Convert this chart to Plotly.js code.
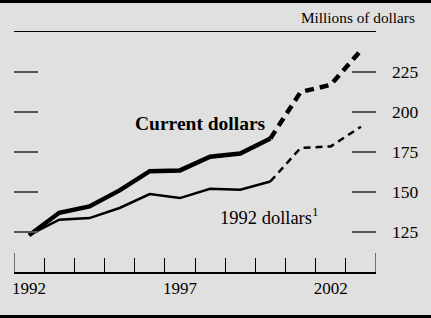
<!DOCTYPE html>
<html>
<head>
<meta charset="utf-8">
<script src="https://cdn.plot.ly/plotly-3.0.1.min.js"></script>
<style>
  html, body { margin: 0; padding: 0; background: #e0e0e0; overflow: hidden; }
  #wrap { position: relative; width: 431px; height: 318px; overflow: hidden; background: #e0e0e0; }
  #chart { position: absolute; left: 0; top: 0; width: 431px; height: 318px; }
  .rule { position: absolute; left: 0; width: 431px; background: #000; }
</style>
</head>
<body>
<div id="wrap">
  <div id="chart"></div>
  <div class="rule" style="top:0;height:3px;"></div>
  <div class="rule" style="top:315px;height:3px;"></div>
</div>
<script>
// ---- data ----
const years = [1992, 1993, 1994, 1995, 1996, 1997, 1998, 1999, 2000, 2001, 2002, 2003];
const currentDollars = [123, 137, 141, 151, 163, 163.5, 172, 174, 183.5, 212.5, 217, 238.5];
const constantDollars = [123, 132.7, 133.7, 140, 148.7, 146.2, 152, 151.4, 156.6, 177.5, 178.5, 190.8];
const lastActualIndex = 8; // 2000: solid through here, dashed after
const yTickVals = [125, 150, 175, 200, 225];
const xLabelVals = [1992, 1997, 2002];
const xLabelText = ['1992', '1997', '2002'];
const xBoundaries = [1992.5, 1993.5, 1994.5, 1995.5, 1996.5, 1997.5, 1998.5, 1999.5, 2000.5, 2001.5, 2002.5];
const xEnds = [1991.5, 2003.5];

const serif = '"Liberation Serif", "Times New Roman", serif';

function seg(arr, solid) {
  return solid ? arr.slice(0, lastActualIndex + 1) : arr.slice(lastActualIndex);
}

const traces = [
  { x: seg(years, true), y: seg(currentDollars, true), mode: 'lines',
    line: { color: '#000', width: 4.5 }, xaxis: 'x', yaxis: 'y' },
  { x: seg(years, false), y: seg(currentDollars, false), mode: 'lines',
    line: { color: '#000', width: 4.5, dash: '9px,6px' }, xaxis: 'x', yaxis: 'y' },
  { x: seg(years, true), y: seg(constantDollars, true), mode: 'lines',
    line: { color: '#000', width: 2.5 }, xaxis: 'x', yaxis: 'y' },
  { x: seg(years, false), y: seg(constantDollars, false), mode: 'lines',
    line: { color: '#000', width: 2.5, dash: '7px,5px' }, xaxis: 'x', yaxis: 'y' },
  { x: [years[0]], y: [currentDollars[0]], mode: 'markers', marker: { opacity: 0 },
    xaxis: 'x2', yaxis: 'y2', hoverinfo: 'skip' }
];

const xRange = [1991.5, 2003.5];
const yRange = [100, 250];

const shapes = xEnds.map(v => ({
  type: 'line', xref: 'x', yref: 'paper', x0: v, x1: v, y0: 0, y1: 19 / 240,
  line: { color: '#000', width: 1 }
}));

const layout = {
  width: 431, height: 318,
  margin: { l: 14, r: 55, t: 32, b: 46, pad: 0 },
  paper_bgcolor: 'rgba(0,0,0,0)',
  plot_bgcolor: 'rgba(0,0,0,0)',
  showlegend: false,
  hovermode: false,
  font: { family: serif, color: '#000', size: 17 },
  xaxis: {
    range: xRange, tickmode: 'array', tickvals: xBoundaries,
    ticks: 'inside', ticklen: 14, tickwidth: 1, tickcolor: '#000',
    showticklabels: false, showgrid: false, zeroline: false,
    showline: true, mirror: true, linecolor: '#000', linewidth: 1.5
  },
  xaxis2: {
    overlaying: 'x', anchor: 'y', side: 'bottom', range: xRange,
    tickmode: 'array', tickvals: xLabelVals, ticktext: xLabelText,
    ticks: '', showgrid: false, zeroline: false, showline: false,
    tickfont: { family: serif, size: 17, color: '#000' }, ticklabelstandoff: 4
  },
  yaxis: {
    range: yRange, tickmode: 'array', tickvals: yTickVals,
    ticks: 'inside', ticklen: 24, tickwidth: 1.5, tickcolor: '#555',
    showticklabels: false, showgrid: false, zeroline: false, showline: false
  },
  yaxis2: {
    overlaying: 'y', side: 'right', anchor: 'x', range: yRange,
    tickmode: 'array', tickvals: yTickVals,
    ticks: 'inside', ticklen: 24, tickwidth: 1.5, tickcolor: '#555',
    showgrid: false, zeroline: false, showline: false,
    tickfont: { family: serif, size: 17.5, color: '#000' }, ticklabelstandoff: 15
  },
  shapes: shapes,
  annotations: [
    { text: '<b>Current dollars</b>', xref: 'x', yref: 'y', x: 1997.67, y: 193.1,
      xanchor: 'center', yanchor: 'middle', showarrow: false,
      font: { family: serif, size: 19.5, color: '#000' } },
    { text: '1992 dollars<sup>1</sup>', xref: 'x', yref: 'y', x: 1998.26, y: 135,
      xanchor: 'left', yanchor: 'middle', showarrow: false,
      font: { family: serif, size: 18.5, color: '#000' } },
    { text: 'Millions of dollars', xref: 'paper', yref: 'paper', x: 1.1124, y: 1.061,
      xanchor: 'right', yanchor: 'middle', showarrow: false,
      font: { family: serif, size: 15.3, color: '#000' } }
  ]
};

Plotly.newPlot('chart', traces, layout, { displayModeBar: false, staticPlot: true });
</script>
</body>
</html>
